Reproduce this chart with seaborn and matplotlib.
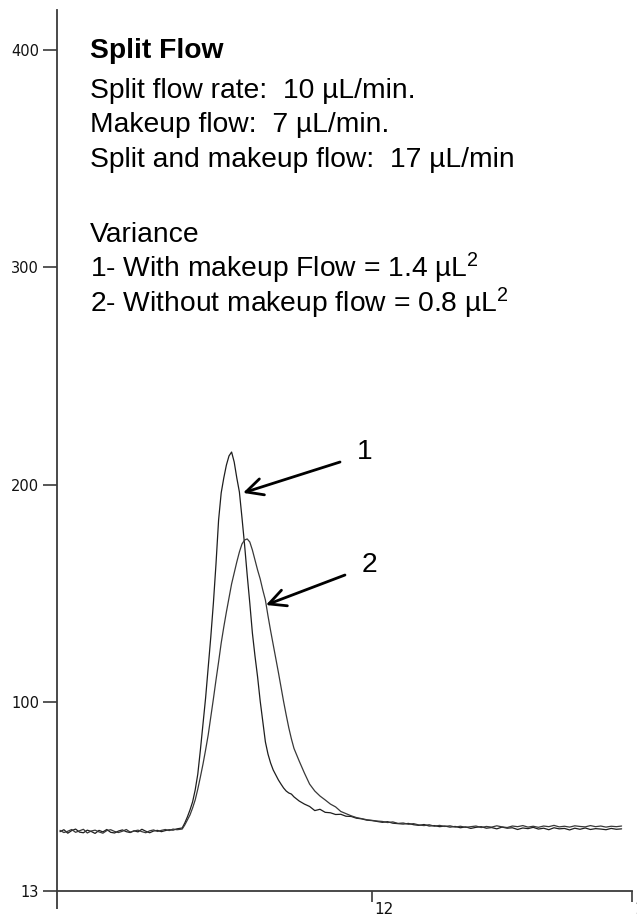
import numpy as np
import pandas as pd
import matplotlib
matplotlib.use("Agg")
import matplotlib.pyplot as plt
from matplotlib import transforms
import seaborn as sns

# Retention time (min) of the sampled detector readings
retention_time = [
    10.800, 10.815, 10.830, 10.845, 10.860, 10.875, 10.890, 10.905, 10.920, 10.935,
    10.950, 10.965, 10.980, 10.995, 11.010, 11.025, 11.040, 11.055, 11.070, 11.085,
    11.100, 11.115, 11.130, 11.145, 11.160, 11.175, 11.190, 11.205, 11.220, 11.235, 11.250,
    11.27, 11.28, 11.29, 11.30, 11.31, 11.32, 11.33, 11.34, 11.35, 11.36,
    11.37, 11.38, 11.39, 11.40, 11.41, 11.42, 11.43, 11.44, 11.45, 11.46,
    11.47, 11.48, 11.49, 11.50, 11.51, 11.52, 11.53, 11.54, 11.55, 11.56,
    11.57, 11.58, 11.59, 11.60, 11.61, 11.62, 11.63, 11.64, 11.65, 11.66,
    11.67, 11.68, 11.69, 11.70,
    11.72, 11.74, 11.76, 11.78, 11.80, 11.82, 11.84, 11.86, 11.88, 11.90,
    11.92, 11.94, 11.96, 11.98, 12.00,
    12.02, 12.04, 12.06, 12.08, 12.10, 12.12, 12.14, 12.16, 12.18, 12.20,
    12.22, 12.24, 12.26, 12.28, 12.30, 12.32, 12.34, 12.36, 12.38, 12.40,
    12.42, 12.44, 12.46, 12.48, 12.50, 12.52, 12.54, 12.56, 12.58, 12.60,
    12.62, 12.64, 12.66, 12.68, 12.70, 12.72, 12.74, 12.76, 12.78, 12.80,
    12.82, 12.84, 12.86, 12.88, 12.90, 12.92, 12.94, 12.96,
]

# Trace 1: with makeup flow
signal_with_makeup = [
    40.3, 41.2, 39.6, 40.8, 41.5, 40.1, 39.8, 41.0, 40.4, 39.5,
    40.9, 40.2, 41.3, 40.0, 39.7, 40.6, 41.1, 40.3, 39.9, 40.7,
    40.2, 41.4, 40.5, 39.8, 40.6, 40.9, 40.3, 40.8, 41.2, 41.0, 41.6,
    42.0, 44.3, 47.1, 50.3, 54.0, 59.5, 66.8, 77.9, 89.9, 101.8,
    115.6, 129.9, 145.5, 163.5, 183.7, 196.2, 203.1, 209.0, 213.2, 215.0,
    210.4, 203.1, 196.6, 184.7, 172.2, 158.4, 145.5, 131.7, 121.1, 111.5,
    100.4, 90.8, 81.6, 76.0, 71.9, 68.7, 66.4, 64.1, 62.2, 60.4,
    59.0, 58.1, 57.6, 56.3,
    54.4, 53.0, 51.9, 50.0, 50.6, 49.2, 49.0, 48.2, 48.3, 47.4,
    47.3, 46.5, 46.2, 45.6, 45.4,
    45.0, 44.6, 44.9, 44.2, 44.0, 43.8, 44.1, 43.5, 43.2, 43.6,
    42.9, 43.1, 42.6, 42.9, 42.4, 42.7, 42.1, 42.5, 41.8, 42.3,
    42.6, 41.9, 42.2, 41.6, 42.4, 41.9, 42.1, 41.3, 42.0, 41.7,
    42.3, 41.5, 41.9, 41.2, 42.1, 41.6, 41.8, 41.1, 41.9, 41.4,
    42.0, 41.3, 41.7, 41.5, 41.2, 41.8, 41.4, 41.6,
]

# Trace 2: without makeup flow
signal_without_makeup = [
    40.9, 39.9, 40.5, 41.3, 40.0, 40.7, 41.4, 39.7, 40.6, 41.0,
    40.2, 39.6, 40.8, 41.2, 40.4, 39.9, 40.5, 41.3, 40.1, 40.6,
    41.0, 40.3, 39.8, 40.7, 41.1, 40.4, 40.9, 41.3, 40.8, 41.5, 41.2,
    41.5, 43.4, 45.7, 48.0, 51.2, 54.9, 59.9, 65.5, 71.4, 77.9,
    84.8, 93.1, 101.4, 110.1, 118.4, 127.1, 134.5, 141.4, 147.8, 154.3,
    159.3, 164.4, 169.0, 172.7, 174.5, 175.0, 173.6, 169.9, 165.3, 160.7,
    156.6, 151.5, 146.9, 139.6, 132.8, 126.4, 120.1, 113.6, 106.8, 100.2,
    94.0, 88.1, 83.0, 78.6,
    72.8, 67.3, 62.2, 59.0, 56.7, 54.9, 53.0, 51.7, 49.6, 48.6,
    47.6, 46.8, 46.3, 45.8, 45.5,
    45.2, 45.0, 44.5, 44.8, 44.1, 44.3, 43.7, 44.0, 43.4, 43.1,
    43.5, 42.8, 43.2, 42.7, 43.0, 42.4, 42.8, 42.3, 42.6, 42.9,
    42.2, 42.7, 42.4, 43.0, 42.5, 42.2, 42.9, 42.6, 43.1, 42.4,
    42.8, 42.3, 42.9, 42.6, 43.2, 42.5, 42.8, 42.4, 43.0, 42.7,
    42.5, 43.1, 42.6, 42.9, 42.4, 42.8, 42.6, 42.9,
]

y_ticks = [13, 100, 200, 300, 400]
x_ticks = [12, 13]

# Arrow annotations: label, label position, arrow tail, arrow tip (data units)
arrow_labels = ["1", "2"]
label_pos = [(11.973, 215.0), (11.992, 163.0)]
arrow_tail = [(11.877, 210.4), (11.896, 158.4)]
arrow_tip = [(11.504, 196.2), (11.592, 144.6)]

info_lines = [
    ("Split Flow", "bold"),
    ("Split flow rate:  10 µL/min.", "normal"),
    ("Makeup flow:  7 µL/min.", "normal"),
    ("Split and makeup flow:  17 µL/min", "normal"),
    ("Variance", "normal"),
    ("1- With makeup Flow = 1.4 µL$^{2}$", "normal"),
    ("2- Without makeup flow = 0.8 µL$^{2}$", "normal"),
]
info_baselines_px = [58, 98, 132, 167, 242, 277, 312]

df = pd.DataFrame({
    "Time": retention_time * 2,
    "Signal": signal_with_makeup + signal_without_makeup,
    "Trace": ["1"] * len(retention_time) + ["2"] * len(retention_time),
})

sns.set_style("white")
plt.rcParams["font.family"] = ["Liberation Sans", "DejaVu Sans"]
plt.rcParams["mathtext.default"] = "regular"

W, H = 637, 919
fig = plt.figure(figsize=(W / 100, H / 100), dpi=100)
ax = fig.add_axes([57 / W, 28 / H, (632 - 57) / W, (891 - 10) / H])

sns.lineplot(data=df, x="Time", y="Signal", hue="Trace",
             palette={"1": "#1e1e1e", "2": "#383838"},
             linewidth=0.9, estimator=None, sort=False, legend=False, ax=ax)

ax.set_xlim(10.7885, 13.0)
ax.set_ylim(13, 418.4)
ax.set_xlabel("")
ax.set_ylabel("")

axis_col = "#3a3a3a"
for side in ("top", "right"):
    ax.spines[side].set_visible(False)
for side in ("left", "bottom"):
    ax.spines[side].set_color(axis_col)
    ax.spines[side].set_linewidth(1.3)
# left axis line continues a little below the time axis
ax.plot([0, 0], [0, -0.02], transform=ax.transAxes, clip_on=False,
        color=axis_col, lw=1.3, solid_capstyle="butt")

narrow = ["Liberation Sans Narrow", "DejaVu Sans Condensed", "DejaVu Sans"]
ax.set_yticks(y_ticks)
ax.set_yticklabels([str(v) for v in y_ticks], family=narrow, fontsize=10.5)
ax.set_xticks(x_ticks)
ax.set_xticklabels([str(v) for v in x_ticks], family=narrow, fontsize=11, ha="left")
ax.tick_params(axis="y", left=True, direction="out", length=10, width=1.2,
               color=axis_col, pad=3, labelcolor="#111111")
ax.tick_params(axis="x", bottom=True, direction="out", length=8, width=1.2,
               color=axis_col, pad=0, labelcolor="#111111")
offset = transforms.ScaledTranslation(1.5 / 72, 0, fig.dpi_scale_trans)
for lab in ax.get_xticklabels():
    lab.set_transform(lab.get_transform() + offset)

for (txt, weight), ypx in zip(info_lines, info_baselines_px):
    fig.text(90 / W, 1 - ypx / H, txt, fontsize=20.3, fontweight=weight,
             ha="left", va="baseline", color="black")

for lab, lp, tail, tip in zip(arrow_labels, label_pos, arrow_tail, arrow_tip):
    ax.text(lp[0], lp[1], lab, fontsize=20.3, ha="center", va="center", color="black")
    ax.annotate("", xy=tip, xytext=tail,
                arrowprops=dict(arrowstyle="->, head_length=0.6, head_width=0.3",
                                color="black", lw=2.0, mutation_scale=20,
                                shrinkA=0, shrinkB=0))

fig.savefig("out.png", dpi=100, facecolor="white")
